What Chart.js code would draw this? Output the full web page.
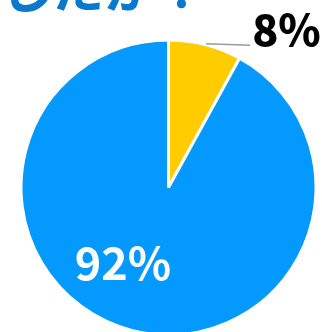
<!DOCTYPE html>
<html>
<head>
<meta charset="utf-8">
<script src="https://cdn.jsdelivr.net/npm/chart.js@4"></script>
<style>
  html, body { margin: 0; padding: 0; background: #fff; overflow: hidden; }
  #wrap { width: 322px; height: 332px; overflow: hidden; }
  canvas { display: block; }
</style>
</head>
<body>
<div id="wrap"><canvas id="pie" width="322" height="340"></canvas></div>
<script>
// --- Data ---
const labels = ['はい', 'いいえ'];
const values = [8, 92];
const colors = ['#FFCC00', '#0399FE'];
const titleText = 'ありましたか？';

const FONT = '"Noto Sans CJK JP", "Noto Sans", sans-serif';

// title sits above the pie, partly outside the canvas
const titlePlugin = {
    id: 'topTitle',
    afterDraw(chart) {
        const ctx = chart.ctx;
        ctx.save();
        ctx.font = 'bold 52px ' + FONT;
        ctx.fillStyle = '#0A78CC';
        ctx.textAlign = 'right';
        ctx.textBaseline = 'alphabetic';
        ctx.fillText(titleText, 208, 8);
        ctx.restore();
    }
};

// percent labels: big slice inside in white, small slice outside with a leader line
const pctPlugin = {
    id: 'pctLabels',
    afterDatasetsDraw(chart) {
        const ctx = chart.ctx;
        const arcs = chart.getDatasetMeta(0).data;
        ctx.save();
        ctx.textBaseline = 'alphabetic';
        arcs.forEach((arc, i) => {
            const { x, y, startAngle, endAngle, outerRadius } = arc.getProps(['x', 'y', 'startAngle', 'endAngle', 'outerRadius'], true);
            const txt = values[i] + '%';
            if (values[i] < 20) {
                const mid = (startAngle + endAngle) / 2;
                const sx = x + Math.cos(mid) * outerRadius;
                const sy = y + Math.sin(mid) * outerRadius;
                ctx.strokeStyle = '#9a9a9a';
                ctx.lineWidth = 1.5;
                ctx.beginPath();
                ctx.moveTo(sx + 1, sy - 1);
                ctx.lineTo(sx + 45, sy + 0.5);
                ctx.stroke();
                ctx.font = '900 43px ' + FONT;
                ctx.fillStyle = '#000';
                ctx.textAlign = 'left';
                ctx.fillText(txt, sx + 47, sy + 1.5);
            } else {
                const a = startAngle + (endAngle - startAngle) * 0.55;
                const r = outerRadius * 0.6;
                ctx.font = 'bold 45px ' + FONT;
                ctx.fillStyle = '#fff';
                ctx.textAlign = 'center';
                ctx.fillText(txt, x + Math.cos(a) * r, y + Math.sin(a) * r + 17);
            }
        });
        ctx.restore();
    }
};

new Chart(document.getElementById('pie').getContext('2d'), {
    type: 'pie',
    data: {
        labels: labels,
        datasets: [{
            data: values,
            backgroundColor: colors,
            borderColor: '#ffffff',
            borderWidth: 3,
            hoverOffset: 0
        }]
    },
    options: {
        responsive: false,
        animation: false,
        layout: { padding: { left: 19.5, top: 38.5, right: 4.5, bottom: 3.5 } },
        plugins: {
            legend: { display: false },
            tooltip: { enabled: false }
        }
    },
    plugins: [titlePlugin, pctPlugin]
});
</script>
</body>
</html>
